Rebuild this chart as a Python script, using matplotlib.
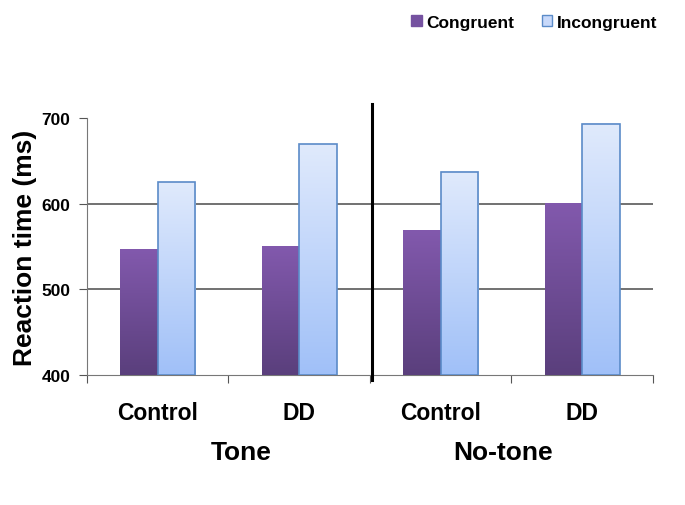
import numpy as np
import matplotlib
matplotlib.use("Agg")
from matplotlib import pyplot as plt
from matplotlib.patches import Rectangle
from matplotlib.colors import LinearSegmentedColormap

plt.rcParams['font.family'] = ['Liberation Sans', 'DejaVu Sans']
plt.rcParams['font.weight'] = 'bold'

groups = ["Control", "DD", "Control", "DD"]
conditions = ["Tone", "No-tone"]
congruent = [546, 550, 569, 600]
incongruent = [625, 669, 637, 693]
yticks = [400, 500, 600, 700]

purple = LinearSegmentedColormap.from_list("p", ["#5a3f7c", "#8259ad"])
blue = LinearSegmentedColormap.from_list("b", ["#a0c0f8", "#e0eafc"])
grad = np.linspace(0, 1, 256).reshape(-1, 1)

fig = plt.figure(figsize=(6.85, 5.06), dpi=100)
ax = fig.add_axes([0.127, 0.257, 0.826, 0.508])

w = 0.265
x = np.arange(len(groups))
for xi, c, ic in zip(x, congruent, incongruent):
    ax.imshow(grad, cmap=purple, origin="lower", aspect="auto",
              extent=[xi - w, xi, 400, c], zorder=3)
    ax.imshow(grad, cmap=blue, origin="lower", aspect="auto",
              extent=[xi, xi + w, 400, ic], zorder=3)
    ax.add_patch(Rectangle((xi, 400), w, ic - 400, fill=False,
                           edgecolor="#5b8bc8", lw=1.2, zorder=4))

ax.set_xlim(-0.5, len(groups) - 0.5)
ax.set_ylim(400, 700)
ax.set_yticks(yticks)
ax.set_yticklabels([str(t) for t in yticks], fontsize=12.5, fontweight="bold")
for t in [500, 600]:
    ax.axhline(t, color="#4a4a4a", lw=1.1, zorder=1)

ax.set_xticks(np.arange(len(groups) + 1) - 0.5)
ax.set_xticklabels([])
ax.tick_params(axis="x", direction="out", length=6, color="#555555")
ax.tick_params(axis="y", direction="out", length=6, color="#555555", pad=6)
for s in ["top", "right"]:
    ax.spines[s].set_visible(False)
for s in ["left", "bottom"]:
    ax.spines[s].set_color("#777777")

for xi, g in zip(x, groups):
    ax.text(xi, -0.1, g, transform=ax.get_xaxis_transform(), ha="center",
            va="top", fontsize=16.5, fontweight="bold")
# condition labels sit a little off the group centres, as in the original
for xc, cond in zip([0.59, 2.44], conditions):
    ax.text(xc, -0.252, cond, transform=ax.get_xaxis_transform(),
            ha="center", va="top", fontsize=19, fontweight="bold")

# separator between the two conditions
ax.plot([1.515, 1.515], [-0.02, 1.055], color="black", lw=2.2,
        transform=ax.get_xaxis_transform(), clip_on=False, zorder=5)

ax.set_ylabel("Reaction time (ms)", fontsize=19, fontweight="bold", labelpad=3)

handles = [Rectangle((0, 0), 1, 1, facecolor="#7552a0", edgecolor="#7552a0"),
           Rectangle((0, 0), 1, 1, facecolor="#c8d9fa", edgecolor="#5b8bc8")]
fig.legend(handles, ["Congruent", "Incongruent"], loc="upper right",
           bbox_to_anchor=(657 / 685, 1 - 16 / 506), ncol=2, frameon=False,
           borderpad=0, borderaxespad=0,
           handlelength=0.6, handleheight=0.6, handletextpad=0.25,
           columnspacing=1.6, prop={"size": 12.5, "weight": "bold"})

fig.savefig("out.png", dpi=100)
